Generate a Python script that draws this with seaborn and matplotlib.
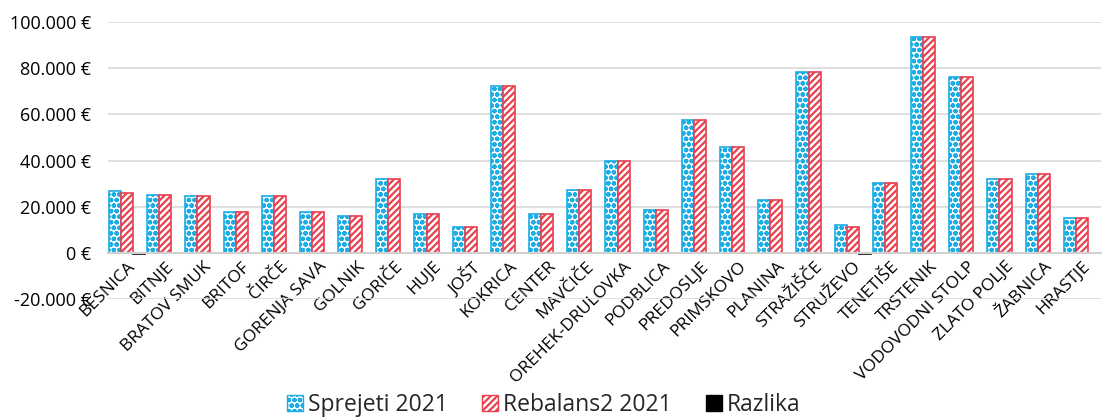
import pandas as pd
import seaborn as sns
import matplotlib.pyplot as plt
import matplotlib.patches as mpatches
from matplotlib.ticker import FuncFormatter

# data (EUR)
kraji = ['BESNICA', 'BITNJE', 'BRATOV SMUK', 'BRITOF', 'ČIRČE', 'GORENJA SAVA', 'GOLNIK',
         'GORIČE', 'HUJE', 'JOŠT', 'KOKRICA', 'CENTER', 'MAVČIČE', 'OREHEK-DRULOVKA',
         'PODBLICA', 'PREDOSLJE', 'PRIMSKOVO', 'PLANINA', 'STRAŽIŠČE', 'STRUŽEVO',
         'TENETIŠE', 'TRSTENIK', 'VODOVODNI STOLP', 'ZLATO POLJE', 'ŽABNICA', 'HRASTJE']
sprejeti = [26700, 25200, 24500, 17700, 24500, 17600, 16100, 32000, 16900, 11000, 72400,
            16700, 27100, 40000, 18700, 57700, 45800, 22800, 78200, 11900, 30300, 93500,
            76000, 32200, 34200, 15300]
rebalans = [26000, 25200, 24500, 17700, 24500, 17600, 16100, 32000, 16900, 11000, 72400,
            16700, 27100, 40000, 18700, 57700, 45800, 22800, 78200, 11400, 30300, 93500,
            76000, 32200, 34200, 15300]
razlika = [-700, 0, 0, 0, 0, 0, 0, 0, 0, 0, 0, 0, 0, 0, 0, 0, 0, 0, 0, -500,
           0, 0, 0, 0, 0, 0]
serije = ['Sprejeti 2021', 'Rebalans2 2021', 'Razlika']

df = pd.DataFrame({'Kraj': kraji, serije[0]: sprejeti, serije[1]: rebalans, serije[2]: razlika})
df = df.melt(id_vars='Kraj', var_name='Serija', value_name='Znesek')

sns.set_style('white')
plt.rcParams['font.family'] = ['Open Sans', 'DejaVu Sans']
plt.rcParams['hatch.linewidth'] = 1.6

blue = '#1CADE4'
red = '#E8404F'

fig = plt.figure(figsize=(11.03, 4.18), dpi=100)
ax = fig.add_axes([108 / 1103, 1 - 299 / 418, 993 / 1103, 277 / 418])

sns.barplot(data=df, x='Kraj', y='Znesek', hue='Serija', hue_order=serije,
            palette=['white', 'white', 'black'], width=0.95, gap=0,
            legend=False, ax=ax)

styles = [dict(facecolor='white', edgecolor=blue, hatch='ooo'),
          dict(facecolor='white', edgecolor=red, hatch='/////'),
          dict(facecolor='black', edgecolor='black', hatch=None)]
for cont, st in zip(ax.containers, styles):
    for bar in cont:
        bar.set_facecolor(st['facecolor'])
        bar.set_edgecolor(st['edgecolor'])
        bar.set_hatch(st['hatch'])
        bar.set_linewidth(1.2)

ax.set_ylim(-20000, 100000)
ax.set_yticks(range(-20000, 100001, 20000))
ax.yaxis.set_major_formatter(FuncFormatter(lambda v, p: f'{int(v):,} €'.replace(',', '.')))
ax.grid(axis='y', color='#D9D9D9', linewidth=1.2)
ax.set_axisbelow(True)
for s in ['top', 'right', 'left']:
    ax.spines[s].set_visible(False)
ax.spines['bottom'].set_position(('data', 0))
ax.spines['bottom'].set_color('#D0D0D0')
ax.spines['bottom'].set_linewidth(1.5)
ax.tick_params(axis='y', length=0, labelsize=13, pad=12, labelcolor='black')
ax.tick_params(axis='x', length=0, labelsize=12.5, pad=4, labelcolor='black')
plt.setp(ax.get_xticklabels(), rotation=45, ha='right', rotation_mode='anchor')
ax.set_xlabel('')
ax.set_ylabel('')

handles = [mpatches.Patch(facecolor='white', edgecolor=blue, hatch='ooo', label=serije[0]),
           mpatches.Patch(facecolor='white', edgecolor=red, hatch='/////', label=serije[1]),
           mpatches.Patch(facecolor='black', edgecolor='black', label=serije[2])]
fig.legend(handles=handles, loc='center', bbox_to_anchor=(0.493, 0.03), ncol=3,
           frameon=False, fontsize=16.5, handlelength=0.7, handleheight=0.7,
           handletextpad=0.2, columnspacing=1.5, borderpad=0)

fig.savefig('out.png', dpi=100)
